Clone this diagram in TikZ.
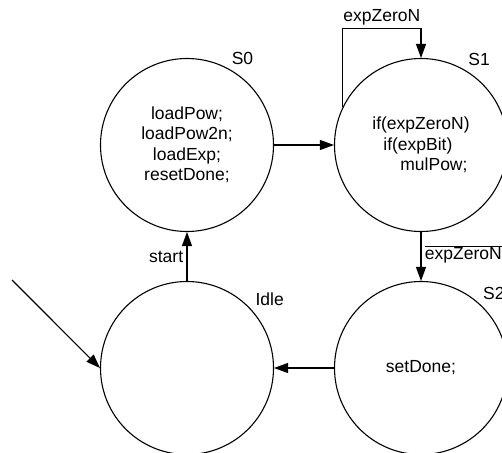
\documentclass[tikz,border=0pt]{standalone}
\usepackage{fontspec}
\setmainfont{Liberation Sans}
\usetikzlibrary{arrows.meta}
\tikzset{
  state/.style={draw, circle, minimum size=173pt, inner sep=0pt, align=center},
  trans/.style={-{Triangle[length=14pt,width=10pt]}},
}
\begin{document}
\begin{tikzpicture}[x=1pt, y=-1pt, line width=1.1pt, font=\fontsize{17.5}{20.5}\selectfont]
        \clip (0,0) rectangle (502,452);
        % the four states
        \node[state, label={62:S0}]   (S0)   at (187,145) {loadPow;\\loadPow2n;\\loadExp;\\resetDone;};
        \node[state, label={60:S1}, align=left]
                                      (S1)   at (421,145) {if(expZeroN)\\\hspace*{11pt}if(expBit)\\\hspace*{28pt}mulPow;};
        \node[state, label={48:S2}]   (S2)   at (421,368) {setDone;};
        \node[state, label={42:Idle}] (Idle) at (187,368) {};
        % start of the initial arrow
        \coordinate (init) at (12,280);
        % drawing the transitions
        \draw[trans] (init)   -- (Idle.west);
        \draw[trans] (Idle)   -- (S0) node[midway, left] {start};
        \draw[trans] (S0)     -- (S1);
        \draw[trans] (S1.154) -- ++(0,-78) -| (S1.north) node[pos=0.25, above] {expZeroN};
        \draw[trans] (S1)     -- (S2) node[pos=0.45, anchor=west] {$\overline{\mbox{expZeroN}}$};
        \draw[trans] (S2)     -- (Idle);
\end{tikzpicture}
\end{document}
